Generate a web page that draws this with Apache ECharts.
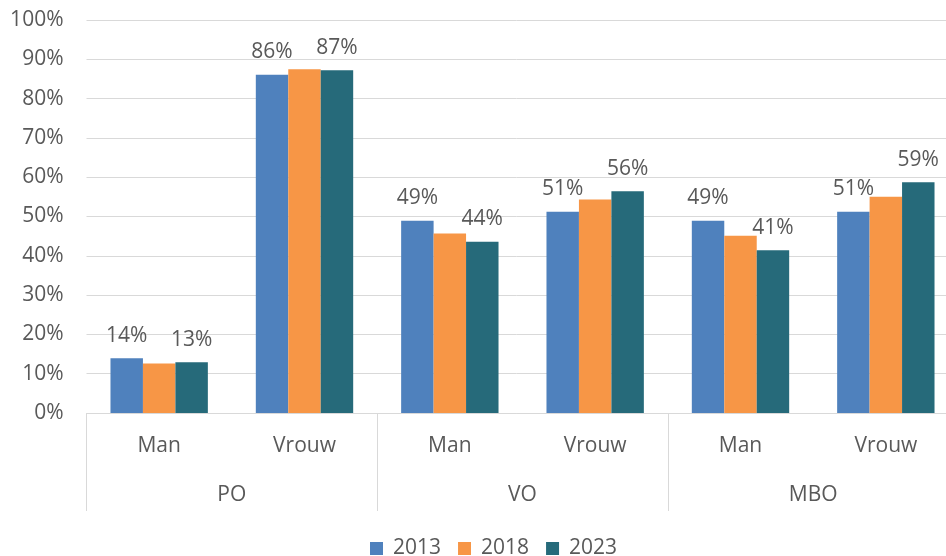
<!DOCTYPE html>
<html>
<head>
<meta charset="utf-8">
<script src="https://cdn.jsdelivr.net/npm/echarts@6/dist/echarts.min.js"></script>
<style>
  html, body { margin: 0; padding: 0; background: #fff; }
  #main { width: 946px; height: 556px; }
</style>
</head>
<body>
<div id="main"></div>
<script>
// categorieen
const subCats = ['Man', 'Vrouw', 'Man', 'Vrouw', 'Man', 'Vrouw'];
const groups = ['PO', 'VO', 'MBO'];
const years = ['2013', '2018', '2023'];

// percentages per jaar
const v2013 = [13.9, 86.1, 48.9, 51.2, 48.9, 51.2];
const v2018 = [12.6, 87.5, 45.7, 54.3, 45.1, 55.0];
const v2023 = [12.9, 87.2, 43.6, 56.4, 41.4, 58.7];

const yTicks = { min: 0, max: 100, step: 10 };

const txt = '#595959';
const font = 'Open Sans';

const mainE1 = document.querySelector('#main');
let myChart = echarts.init(mainE1);

function lbl(show) {
    return {
        show: show,
        position: 'top',
        distance: 12,
        fontFamily: font,
        fontSize: 21,
        color: txt,
        formatter: (p) => Math.round(p.value) + '%'
    };
}

let option = {
    animation: false,
    color: ['#4F81BD', '#F79646', '#266A7A'],
    textStyle: { fontFamily: font },
    grid: { left: 86.5, top: 20, width: 872, height: 393, outerBoundsMode: 'none', containLabel: false },
    legend: {
        data: years,
        left: 365,
        top: 533,
        icon: 'rect',
        itemWidth: 13,
        itemHeight: 13,
        itemGap: 17,
        textStyle: { fontFamily: font, fontSize: 21, color: txt, padding: [0, 0, 0, 5] }
    },
    xAxis: [
        {
            type: 'category',
            data: subCats,
            axisLine: { lineStyle: { color: '#d9d9d9', width: 1 } },
            axisTick: { show: false },
            axisLabel: { margin: 23, fontSize: 21, color: txt, fontFamily: font, interval: 0 }
        },
        {
            type: 'category',
            data: groups,
            position: 'bottom',
            axisLine: { show: false },
            axisTick: { show: true, length: 98, lineStyle: { color: '#d9d9d9', width: 1 } },
            axisLabel: { margin: 72, fontSize: 21, color: txt, fontFamily: font, interval: 0 }
        }
    ],
    yAxis: {
        type: 'value',
        min: yTicks.min,
        max: yTicks.max,
        interval: yTicks.step,
        axisLine: { show: false },
        axisTick: { show: false },
        splitLine: { lineStyle: { color: '#d9d9d9', width: 1 } },
        axisLabel: { margin: 23, fontSize: 21, color: txt, fontFamily: font, formatter: '{value}%' }
    },
    series: [
        { name: '2013', type: 'bar', xAxisIndex: 0, data: v2013, barGap: '0%', barCategoryGap: '33%', label: lbl(true) },
        { name: '2018', type: 'bar', xAxisIndex: 0, data: v2018, barGap: '0%', barCategoryGap: '33%', label: lbl(false) },
        { name: '2023', type: 'bar', xAxisIndex: 0, data: v2023, barGap: '0%', barCategoryGap: '33%', label: lbl(true) }
    ]
};

myChart.setOption(option);
</script>
</body>
</html>
